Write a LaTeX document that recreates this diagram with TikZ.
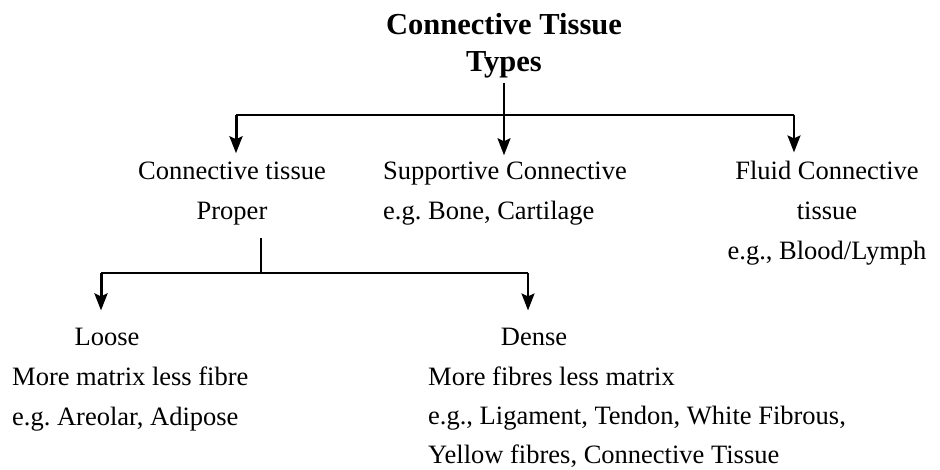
\documentclass[tikz,border=0pt]{standalone}
\usepackage{fontspec}
\setmainfont{Liberation Serif}
\usetikzlibrary{arrows.meta}
\frenchspacing
\begin{document}
\begin{tikzpicture}[x=1pt,y=-1pt,
  txt/.style={inner sep=0pt, font=\fontsize{26.5}{40}\selectfont},
  ttl/.style={inner sep=0pt, font=\fontsize{30.5}{37}\selectfont\bfseries, align=center},
  link/.style={line width=2pt},
  arr/.style={line width=2pt, -{Stealth[width=13pt,length=17pt,inset=3pt]}}]
\useasboundingbox (0,0) rectangle (940,470);
% texts (base anchor = baseline of last line)
\node[ttl, anchor=base] (title) at (504,72) {Connective Tissue\\Types};
\node[txt, anchor=base, align=center] (ctp) at (232,220) {Connective tissue\\Proper};
\node[txt, anchor=base west, align=left] (sup) at (383,220) {Supportive Connective\\e.g. Bone, Cartilage};
\node[txt, anchor=base, align=center] (flu) at (827,260) {Fluid Connective\\tissue\\e.g., Blood/Lymph};
\node[txt, anchor=base] (loose) at (107,345) {Loose};
\node[txt, anchor=base west, align=left] (looseD) at (12,425) {More matrix less fibre\\e.g. Areolar, Adipose};
\node[txt, anchor=base] (dense) at (534,345) {Dense};
\node[txt, anchor=base west, align=left, font=\fontsize{26.5}{39}\selectfont] (denseD) at (428,463) {More fibres less matrix\\e.g., Ligament, Tendon, White Fibrous,\\Yellow fibres, Connective Tissue};
% junctions
\coordinate (jm) at (504,115);
\coordinate (jl) at (236,115);
\coordinate (jr) at (794,115);
\coordinate (pm) at (261,273);
\coordinate (pl) at (101,273);
\coordinate (pr) at (528,273);
% connectors
\draw[link] ([yshift=-4pt]title.south) -- (jm);
\draw[link] (jl) -- (jr);
\draw[arr, line width=3pt] (jl) -- ([yshift=9pt]ctp.north -| jl);
\draw[arr] (jm) -- ([yshift=7pt]sup.north -| jm);
\draw[arr] (jr) -- ([yshift=9pt]flu.north -| jr);
\draw[link] ([yshift=-12pt]ctp.south -| pm) -- (pm);
\draw[link] (pl) -- (pr);
\draw[arr, line width=3pt] (pl) -- ([yshift=17pt]loose.north -| pl);
\draw[arr] (pr) -- ([yshift=17pt]dense.north -| pr);
\end{tikzpicture}
\end{document}
